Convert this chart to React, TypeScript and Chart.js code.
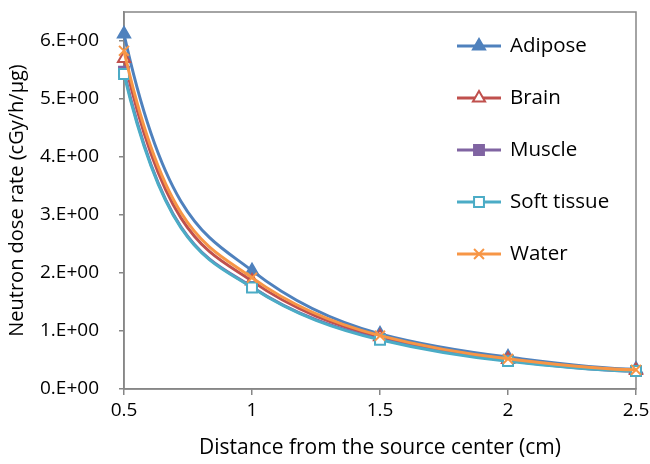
import React, { useEffect, useRef } from 'react';
import { Chart, registerables } from 'chart.js';
import { drawPoint } from 'chart.js/helpers';

Chart.register(...registerables);

const distances = [0.5, 1, 1.5, 2, 2.5];
const adipose = [6.12, 2.04, 0.95, 0.55, 0.34];
const brain = [5.7, 1.86, 0.9, 0.51, 0.32];
const muscle = [5.47, 1.76, 0.86, 0.49, 0.31];
const softTissue = [5.43, 1.75, 0.85, 0.48, 0.31];
const water = [5.83, 1.92, 0.92, 0.52, 0.33];

const seriesNames = ['Adipose', 'Brain', 'Muscle', 'Soft tissue', 'Water'];
const seriesValues = [adipose, brain, muscle, softTissue, water];
const seriesColors = ['#4F81BD', '#C0504D', '#8064A2', '#4BACC6', '#F79646'];
const seriesMarkers = ['triangle', 'triangle', 'rect', 'rect', 'crossRot'];
const seriesFilled = [true, false, true, false, true];
const seriesRadius = [7, 7, 7, 7, 7];

const xTitle = 'Distance from the source center (cm)';
const yTitle = 'Neutron dose rate (cGy/h/\u00b5g)';

const FONT = "'Open Sans', sans-serif";
const AXIS_GRAY = '#868686';

// Smoothing style: shape-preserving (harmonic-mean) tangents, steep end tangents
const END_FACTOR = 2.5;

const smoothPlugin = {
  id: 'excelSmooth',
  beforeDatasetDraw(chart: any, args: any) {
    const meta = args.meta;
    const line = meta.dataset;
    const pts = meta.data;
    if (!line || !pts || pts.length < 3) return;
    if (line.updateControlPoints) line.updateControlPoints(chart.chartArea, 'x');
    const raw = chart.data.datasets[args.index].data as { x: number; y: number }[];
    const n = raw.length;
    const d: number[] = [];
    for (let i = 0; i < n - 1; i++) d.push((raw[i + 1].y - raw[i].y) / (raw[i + 1].x - raw[i].x));
    const m: number[] = new Array(n).fill(0);
    for (let i = 1; i < n - 1; i++) {
      if (d[i - 1] * d[i] <= 0) m[i] = 0;
      else m[i] = 2 / (1 / d[i - 1] + 1 / d[i]);
    }
    const endTan = (dd: number, mm: number) => {
      let t = dd + END_FACTOR * (dd - mm);
      if (t * dd <= 0) t = 0;
      if (Math.abs(t) > 3 * Math.abs(dd)) t = 3 * dd;
      return t;
    };
    m[0] = endTan(d[0], m[1]);
    m[n - 1] = endTan(d[n - 2], m[n - 2]);
    const xs = meta.xScale;
    const ys = meta.yScale;
    for (let i = 0; i < n; i++) {
      const p = pts[i];
      const hp = i > 0 ? raw[i].x - raw[i - 1].x : 0;
      const hn = i < n - 1 ? raw[i + 1].x - raw[i].x : 0;
      p.cp1x = xs.getPixelForValue(raw[i].x - hp / 3);
      p.cp1y = ys.getPixelForValue(raw[i].y - (m[i] * hp) / 3);
      p.cp2x = xs.getPixelForValue(raw[i].x + hn / 3);
      p.cp2y = ys.getPixelForValue(raw[i].y + (m[i] * hn) / 3);
    }
    line._path = undefined;
  },
};

const framePlugin = {
  id: 'frame',
  beforeDatasetsDraw(chart: any) {
    const { ctx, chartArea } = chart;
    ctx.save();
    ctx.strokeStyle = AXIS_GRAY;
    ctx.lineWidth = 1.5;
    ctx.strokeRect(chartArea.left, chartArea.top, chartArea.right - chartArea.left, chartArea.bottom - chartArea.top);
    ctx.restore();
  },
};

const legendPlugin = {
  id: 'sideLegend',
  afterDraw(chart: any) {
    const { ctx, chartArea } = chart;
    const x0 = chartArea.right - 179;
    const y0 = chartArea.top + 34;
    ctx.save();
    chart.data.datasets.forEach((ds: any, i: number) => {
      const cy = y0 + i * 52;
      ctx.strokeStyle = ds.borderColor;
      ctx.lineWidth = 3;
      ctx.beginPath();
      ctx.moveTo(x0, cy);
      ctx.lineTo(x0 + 44, cy);
      ctx.stroke();
      ctx.fillStyle = ds.pointBackgroundColor;
      ctx.strokeStyle = ds.pointBorderColor;
      ctx.lineWidth = ds.pointBorderWidth;
      drawPoint(ctx, { pointStyle: ds.pointStyle, radius: ds.pointRadius, rotation: 0, borderWidth: ds.pointBorderWidth }, x0 + 22, cy);
      ctx.fillStyle = '#000';
      ctx.font = `20.5px ${FONT}`;
      ctx.textBaseline = 'middle';
      ctx.textAlign = 'left';
      ctx.fillText(ds.label, x0 + 53, cy);
    });
    ctx.restore();
  },
};

export default function App() {
  const ref = useRef<HTMLCanvasElement>(null);

  useEffect(() => {
    if (!ref.current) return;
    const datasets = seriesNames.map((name, i) => ({
      label: name,
      data: distances.map((d, j) => ({ x: d, y: seriesValues[i][j] })),
      borderColor: seriesColors[i],
      backgroundColor: seriesColors[i],
      borderWidth: 3,
      tension: 0.4,
      pointStyle: seriesMarkers[i],
      pointRadius: seriesRadius[i],
      pointBackgroundColor: seriesFilled[i] ? seriesColors[i] : '#ffffff',
      pointBorderColor: seriesColors[i],
      pointBorderWidth: 2,
      clip: false as any,
      order: seriesNames.length - i,
    }));

    const chart = new Chart(ref.current, {
      type: 'line',
      data: { datasets },
      plugins: [smoothPlugin, framePlugin, legendPlugin],
      options: {
        responsive: false,
        animation: false,
        layout: { padding: { top: 12, right: 14, left: 0, bottom: 0 } },
        plugins: { legend: { display: false }, tooltip: { enabled: false } },
        scales: {
          x: {
            type: 'linear',
            min: 0.5,
            max: 2.5,
            ticks: {
              stepSize: 0.5,
              color: '#000',
              font: { family: FONT, size: 19 },
              padding: 4,
              callback: (v: any) => String(Number(v)),
            },
            grid: { drawOnChartArea: false, color: AXIS_GRAY, tickLength: 6, lineWidth: 1.5 },
            border: { color: AXIS_GRAY, width: 1.5 },
            title: { display: true, text: xTitle, color: '#000', font: { family: FONT, size: 21 }, padding: { top: 0, bottom: 3 } },
            afterFit(scale: any) {
              scale.height = 75;
              scale.paddingLeft = 0;
              scale.paddingRight = 0;
            },
          },
          y: {
            type: 'linear',
            min: 0,
            max: 6.5,
            afterBuildTicks(scale: any) { scale.ticks = scale.ticks.filter((t: any) => t.value <= 6); },
            ticks: {
              stepSize: 1,
              color: '#000',
              font: { family: FONT, size: 19 },
              padding: 20,
              callback: (v: any) => `${Number(v).toFixed(0)}.E+00`,
            },
            grid: { drawOnChartArea: false, color: AXIS_GRAY, tickLength: 5, lineWidth: 1.5 },
            border: { color: AXIS_GRAY, width: 1.5 },
            title: { display: true, text: yTitle, color: '#000', font: { family: FONT, size: 20 }, padding: { top: 5, bottom: 0 } },
            afterFit(scale: any) {
              scale.width = 124;
              scale.paddingTop = 0;
              scale.paddingBottom = 0;
            },
          },
        },
      },
    } as any);
    return () => chart.destroy();
  }, []);

  return (
    <div style={{ position: 'absolute', left: 0, top: 0, width: 650, height: 464, background: '#fff' }}>
      <canvas ref={ref} width={650} height={464} />
    </div>
  );
}
